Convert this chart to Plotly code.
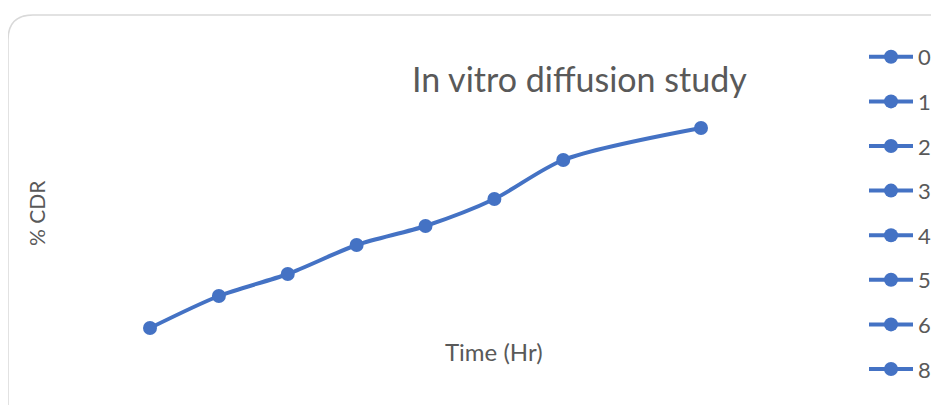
import plotly.graph_objects as go

# 데이터
time_hr = [0, 1, 2, 3, 4, 5, 6, 8]
cdr = [12.4, 25.2, 34.0, 45.6, 53.2, 64.0, 79.6, 92.4]

BLUE = "#4472C4"
GREY = "#595959"
FONT = "Lato"

OFF = 8  # 페이지 body 여백
W, H = 939 - OFF, 405 - OFF
L, R, T, B = 112, 209, 92, 46
PW, PH = W - L - R, H - T - B


def px_x(px):
    return (px - OFF - L) / PW


def px_y(py):
    return (H - B - (py - OFF)) / PH


fig = go.Figure()

# 본 데이터 (부드러운 선)
fig.add_trace(go.Scatter(
    x=time_hr, y=cdr, mode="lines+markers",
    line=dict(color=BLUE, width=4, shape="spline", smoothing=0.8),
    marker=dict(color=BLUE, size=14),
    showlegend=False, hoverinfo="x+y"
))

# 범례 항목 (시간 값)
for t in time_hr:
    fig.add_trace(go.Scatter(
        x=[None], y=[None], mode="lines+markers",
        line=dict(color=BLUE, width=4),
        marker=dict(color=BLUE, size=14),
        name=str(t), legendgroup=str(t), showlegend=True
    ))

# 둥근 테두리
x0, y0, rad = px_x(8), px_y(15), 25
path = (f"M {px_x(8)},{px_y(420)} L {x0},{px_y(15 + rad)} "
        f"Q {x0},{y0} {px_x(8 + rad)},{y0} L {px_x(960)},{y0}")
fig.add_shape(type="path", path=path, xref="paper", yref="paper",
              line=dict(color="#D9D9D9", width=1.5))

fig.add_annotation(x=px_x(579), y=px_y(79), xref="paper", yref="paper",
                   xanchor="center", yanchor="middle",
                   text="In vitro diffusion study", showarrow=False,
                   font=dict(family=FONT, size=34, color=GREY))
fig.add_annotation(x=px_x(494), y=px_y(351), xref="paper", yref="paper",
                   xanchor="center", yanchor="middle",
                   text="Time (Hr)", showarrow=False,
                   font=dict(family=FONT, size=24, color=GREY))
fig.add_annotation(x=px_x(36), y=px_y(213), xref="paper", yref="paper",
                   xanchor="center", yanchor="middle",
                   text="% CDR", showarrow=False, textangle=-90,
                   font=dict(family=FONT, size=21, color=GREY))

fig.update_layout(
    width=W, height=H,
    margin=dict(l=L, r=R, t=T, b=B, autoexpand=False),
    paper_bgcolor="white", plot_bgcolor="white",
    xaxis=dict(range=[(L + OFF - 150) / 68.875, (L + OFF + PW - 150) / 68.875],
               visible=False, fixedrange=True),
    yaxis=dict(range=[0, PH / 2.5], visible=False, fixedrange=True),
    legend=dict(x=px_x(864), y=px_y(36), xanchor="left", yanchor="top",
                tracegroupgap=13, itemwidth=44, maxheight=1.0,
                font=dict(family=FONT, size=22, color=GREY),
                bgcolor="rgba(0,0,0,0)"),
    font=dict(family=FONT, color=GREY)
)

fig.write_html("out.html")
